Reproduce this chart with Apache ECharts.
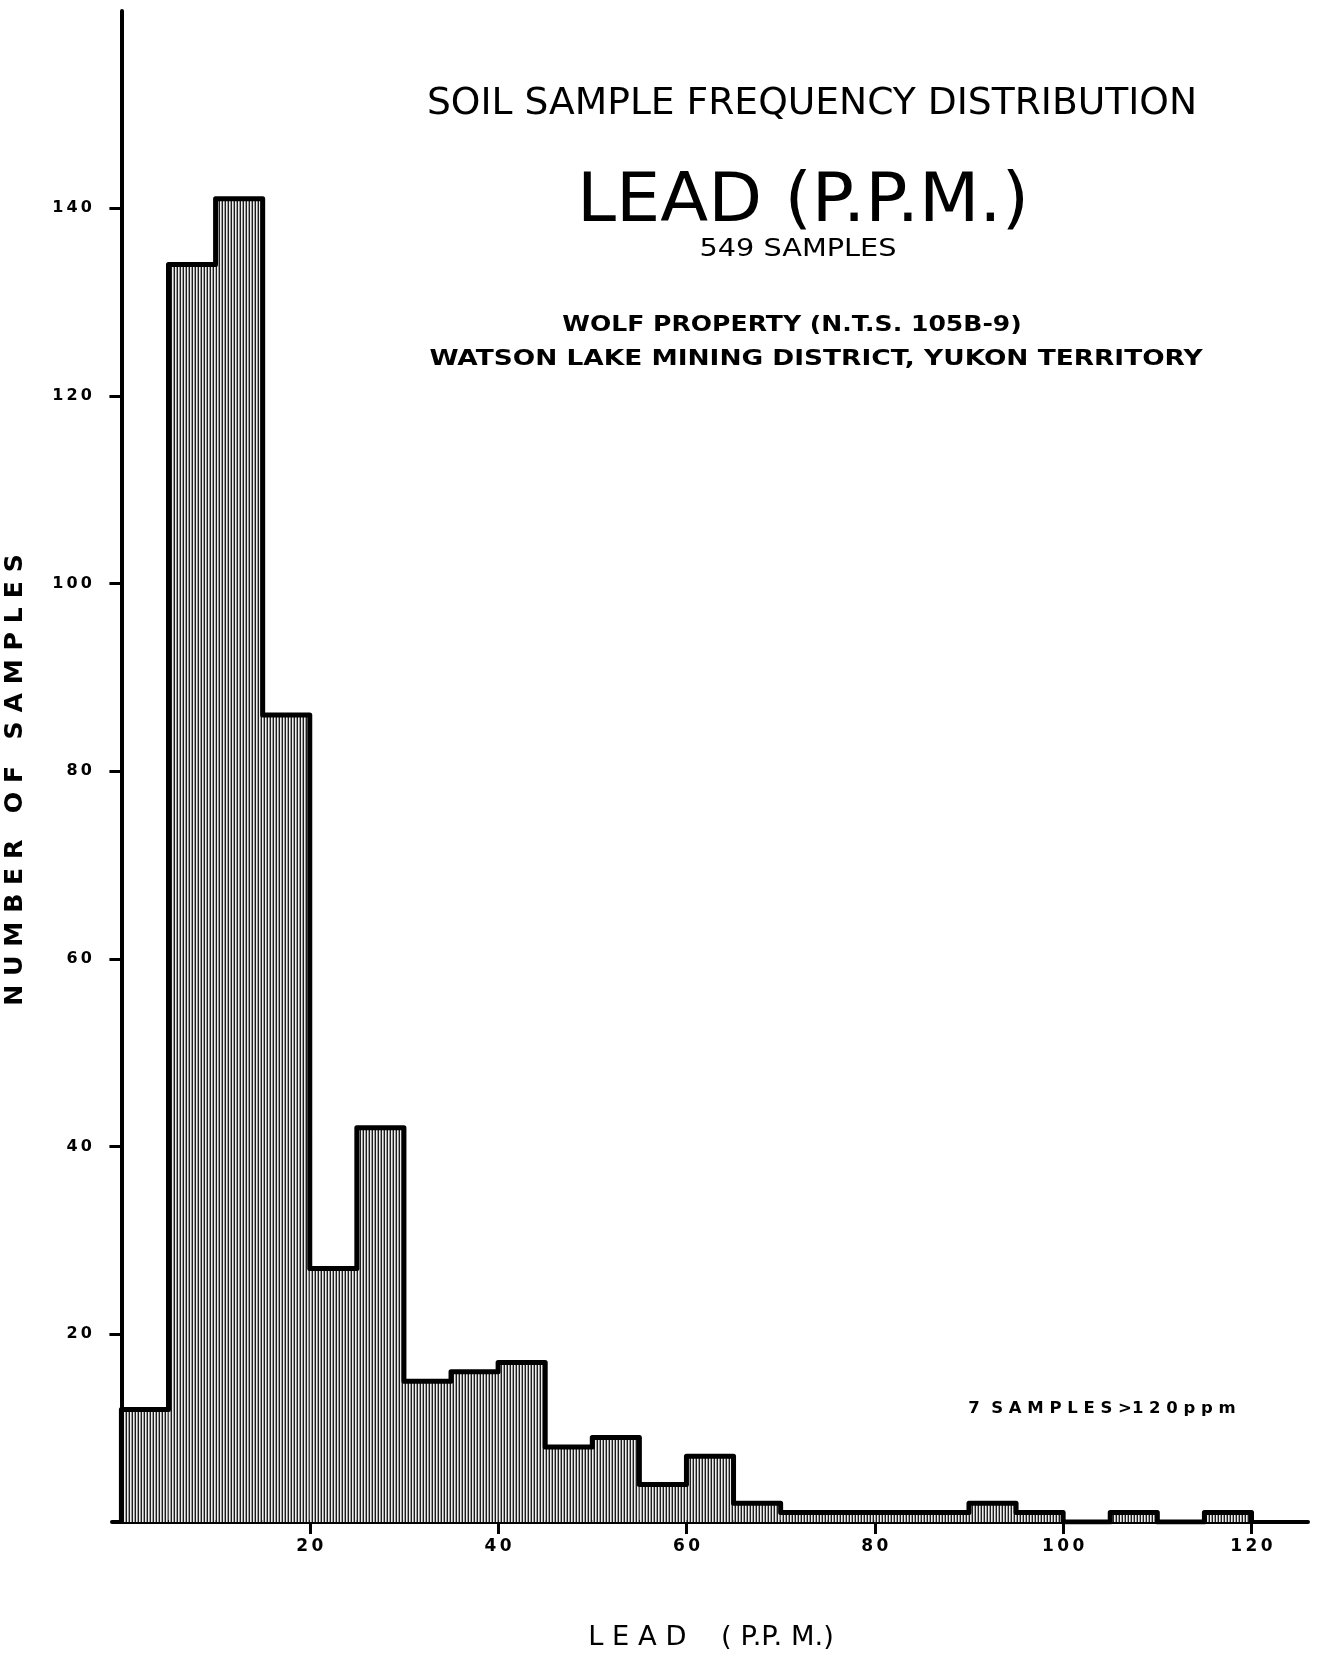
<!DOCTYPE html>
<html>
<head>
<meta charset="utf-8">
<title>Lead (P.P.M.) - soil sample frequency distribution</title>
<script src="https://cdn.jsdelivr.net/npm/echarts@6/dist/echarts.min.js"></script>
<style>
  html, body { margin: 0; padding: 0; background: #fff; }
  #chart { width: 1317px; height: 1653px; }
</style>
</head>
<body>
<div id="chart"></div>
<script>
// bins of 5 ppm, start of each bin
var binStarts = [0, 5, 10, 15, 20, 25, 30, 35, 40, 45, 50, 55, 60, 65, 70, 75, 80, 85, 90, 95, 100, 105, 110, 115];
var counts = [12, 134, 141, 86, 27, 42, 15, 16, 17, 8, 9, 4, 7, 2, 1, 1, 1, 1, 2, 1, 0, 1, 0, 1];
var binWidth = 5;
var xTicks = [20, 40, 60, 80, 100, 120];
var yTicks = [20, 40, 60, 80, 100, 120, 140];

var FONT = "'DejaVu Sans', 'Liberation Sans', sans-serif";

// vertical hatching like the scanned fill
function makeHatch() {
  var c = document.createElement('canvas');
  c.width = 3;
  c.height = 4;
  var ctx = c.getContext('2d');
  ctx.fillStyle = '#eeeeee';
  ctx.fillRect(0, 0, 3, 4);
  ctx.fillStyle = '#1e1e1e';
  ctx.fillRect(0, 0, 1, 4);
  ctx.fillStyle = '#9a9a9a';
  ctx.fillRect(2, 0, 1, 4);
  return c;
}
var hatch = { image: makeHatch(), repeat: 'repeat' };

var binData = binStarts.map(function (s, i) {
  return [s, s + binWidth, counts[i]];
});

// outline of the histogram (step line)
var outline = [[binStarts[0], 0]];
binStarts.forEach(function (s, i) {
  outline.push([s, counts[i]]);
});
outline.push([binStarts[binStarts.length - 1] + binWidth, 0]);

function spaced(v) {
  return String(v).split('').join('\u2009');
}

function label(text, x, y, size, weight, sx, rot) {
  return {
    type: 'text',
    x: x,
    y: y,
    scaleX: sx || 1,
    rotation: rot || 0,
    style: {
      text: text,
      fontSize: size,
      fontFamily: FONT,
      fontWeight: weight,
      fill: '#000',
      align: 'center',
      verticalAlign: 'middle',
      textAlign: 'center',
      textVerticalAlign: 'middle'
    }
  };
}

var chart = echarts.init(document.getElementById('chart'));
chart.setOption({
  backgroundColor: '#fff',
  animation: false,
  grid: { left: 112, top: 11, width: 1196, height: 1511 },
  xAxis: {
    type: 'value',
    min: -1,
    max: 126,
    axisLine: { show: true, lineStyle: { color: '#000', width: 4 } },
    axisTick: { show: true, customValues: xTicks, length: 12, lineStyle: { color: '#000', width: 3 } },
    axisLabel: {
      customValues: xTicks,
      formatter: spaced,
      margin: 16,
      fontSize: 17,
      fontWeight: 'bold',
      fontFamily: FONT,
      color: '#000'
    },
    splitLine: { show: false }
  },
  yAxis: {
    type: 'value',
    min: 0,
    max: 161,
    axisLine: { show: true, lineStyle: { color: '#000', width: 4 } },
    axisTick: { show: true, customValues: yTicks, length: 12, lineStyle: { color: '#000', width: 3 } },
    axisLabel: {
      customValues: yTicks,
      formatter: spaced,
      margin: 20,
      fontSize: 16,
      fontWeight: 'bold',
      fontFamily: FONT,
      color: '#000'
    },
    splitLine: { show: false }
  },
  series: [
    {
      type: 'custom',
      data: binData,
      encode: { x: [0, 1], y: 2 },
      renderItem: function (params, api) {
        var p0 = api.coord([api.value(0), api.value(2)]);
        var p1 = api.coord([api.value(1), 0]);
        return {
          type: 'rect',
          shape: { x: p0[0], y: p0[1], width: p1[0] - p0[0], height: p1[1] - p0[1] },
          style: { fill: hatch }
        };
      },
      z: 2
    },
    {
      type: 'line',
      data: outline,
      step: 'end',
      symbol: 'none',
      lineStyle: { color: '#000', width: 5, join: 'round' },
      z: 3
    }
  ],
  graphic: [
    label('SOIL SAMPLE FREQUENCY DISTRIBUTION', 812, 104, 38, 'normal', 0.99),
    label('LEAD (P.P.M.)', 803, 203, 68, 'normal', 1.03),
    label('549 SAMPLES', 798, 249, 25, 'normal', 1.15),
    label('WOLF PROPERTY (N.T.S. 105B-9)', 792, 325, 22, 'bold', 1.14),
    label('WATSON LAKE MINING DISTRICT, YUKON TERRITORY', 816, 359, 22, 'bold', 1.2),
    label('7  S A M P L E S >1 2 0 p p m', 1102, 1409, 16, 'bold', 1.03),
    label('L E A D    ( P.P. M.)', 711, 1638, 26, 'normal', 1.05),
    label('N U M B E R   O F   S A M P L E S', 16, 780, 24, 'bold', 1.05, Math.PI / 2)
  ]
});
</script>
</body>
</html>
